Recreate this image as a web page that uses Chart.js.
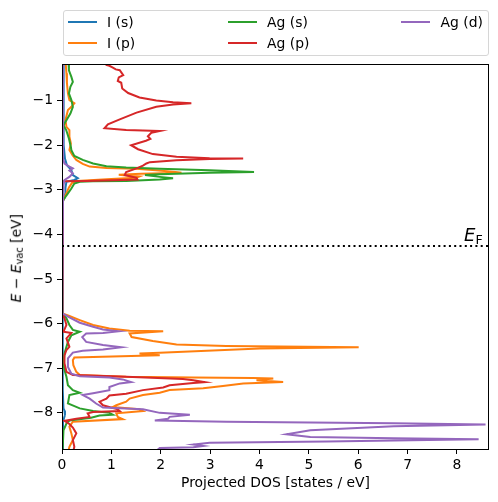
<!DOCTYPE html>
<html>
<head>
<meta charset="utf-8">
<script src="https://cdn.jsdelivr.net/npm/chart.js@4.4.1/dist/chart.umd.min.js"></script>
<style>
  body { margin: 0; background: #fff; font-family: "DejaVu Sans", sans-serif; }
  #wrap { position: relative; width: 498px; height: 502px; }
  #legend { position: absolute; left: 63px; top: 10px; width: 426px; height: 46px;
            border: 1px solid #d6d6d6; border-radius: 3px; box-sizing: border-box; }
  .item { position: absolute; height: 16px; font-size: 13.9px; line-height: 16px; color: #000; white-space: nowrap; }
  .swatch { position: absolute; width: 29px; height: 2px; }
  #ylabel { position: absolute; left: -82px; top: 248px; width: 200px; text-align: center;
            font-size: 13.9px; line-height: 16px; transform: rotate(-90deg); }
  #ylabel sub, #ef sub { font-size: 70%; vertical-align: -0.25em; font-style: normal; }
  #ef { position: absolute; left: 464px; top: 225px; font-size: 18px; line-height: 20px; }
</style>
</head>
<body>
<div id="wrap">
  <canvas id="dosChart" width="498" height="502"></canvas>
  <div id="legend"></div>
  <div id="ylabel"><i>E</i> − <i>E</i><sub>vac</sub> [eV]</div>
  <div id="ef"><i>E</i><sub>F</sub></div>
</div>
<script>
// projected DOS, pairs of [energy (eV), DOS (states / eV)]
const iS = [
  [-0.1, 0.03], [-1.0, 0.03], [-1.6, 0.03], [-2.0, 0.04], [-2.3, 0.06], [-2.45, 0.1],
  [-2.56, 0.19], [-2.67, 0.22], [-2.74, 0.32], [-2.78, 0.25], [-2.82, 0.09], [-2.95, 0.07],
  [-3.07, 0.07], [-3.19, 0.05], [-3.3, 0.0], [-5.7, 0.0], [-5.77, 0.02], [-6.5, 0.02],
  [-7.5, 0.02], [-7.9, 0.03], [-7.95, 0.05], [-8.05, 0.06], [-8.12, 0.04], [-8.2, 0.02], [-8.9, 0.02]
];
const iP = [
  [-0.1, 0.07], [-0.39, 0.09], [-0.61, 0.10], [-0.84, 0.12], [-0.99, 0.15], [-1.06, 0.25],
  [-1.14, 0.19], [-1.21, 0.12], [-1.44, 0.07], [-1.59, 0.09], [-1.66, 0.15], [-1.81, 0.15],
  [-1.96, 0.18], [-2.11, 0.15], [-2.22, 0.21], [-2.33, 0.29], [-2.42, 0.42], [-2.48, 0.56],
  [-2.51, 0.9], [-2.53, 1.5], [-2.56, 1.9], [-2.60, 2.3], [-2.62, 2.42], [-2.64, 1.6],
  [-2.66, 1.15], [-2.68, 1.3], [-2.70, 1.57], [-2.73, 1.5], [-2.76, 1.0], [-2.80, 0.3],
  [-2.85, 0.2], [-2.95, 0.14], [-3.05, 0.10], [-3.15, 0.06], [-3.25, 0.02], [-3.3, 0.0],
  [-5.7, 0.0], [-5.77, 0.02], [-5.83, 0.15], [-5.92, 0.36], [-6.03, 0.63], [-6.11, 0.96],
  [-6.16, 1.37], [-6.17, 2.05], [-6.22, 1.37], [-6.30, 1.41], [-6.39, 1.84], [-6.47, 2.32],
  [-6.50, 3.33], [-6.53, 6.01], [-6.56, 4.01], [-6.65, 1.98], [-6.67, 1.57], [-6.71, 1.98],
  [-6.76, 0.25], [-6.82, 0.22], [-6.93, 0.23], [-7.08, 0.29], [-7.15, 0.36], [-7.19, 1.30],
  [-7.21, 2.66], [-7.22, 3.87], [-7.23, 4.28], [-7.27, 3.94], [-7.31, 4.48], [-7.34, 3.67],
  [-7.40, 3.26], [-7.45, 2.86], [-7.49, 2.18], [-7.55, 1.98], [-7.60, 1.64], [-7.68, 1.37],
  [-7.75, 1.30], [-7.83, 1.10], [-7.87, 1.03], [-7.92, 1.57], [-7.96, 1.64], [-8.01, 1.10],
  [-8.09, 1.13], [-8.14, 1.23], [-8.20, 0.22], [-8.31, 0.15], [-8.46, 0.19], [-8.61, 0.22],
  [-8.76, 0.15], [-8.9, 0.12]
];
const agS = [
  [-0.1, 0.13], [-0.32, 0.14], [-0.47, 0.19], [-0.58, 0.22], [-0.69, 0.17], [-0.84, 0.14],
  [-0.99, 0.19], [-1.14, 0.22], [-1.29, 0.17], [-1.44, 0.09], [-1.55, 0.03], [-1.66, 0.085],
  [-1.85, 0.14], [-2.04, 0.18], [-2.11, 0.19], [-2.24, 0.25], [-2.33, 0.42], [-2.41, 0.63],
  [-2.47, 0.90], [-2.50, 1.30], [-2.53, 1.98], [-2.56, 2.99], [-2.60, 3.89], [-2.62, 2.99],
  [-2.65, 1.98], [-2.67, 1.68], [-2.71, 1.98], [-2.74, 2.25], [-2.77, 1.98], [-2.80, 1.30],
  [-2.81, 0.63], [-2.82, 0.36], [-2.86, 0.25], [-2.97, 0.19], [-3.08, 0.12], [-3.19, 0.05],
  [-3.25, 0.01], [-3.3, 0.0], [-5.7, 0.0], [-5.77, 0.02], [-5.88, 0.09], [-6.03, 0.15],
  [-6.14, 0.22], [-6.18, 0.36], [-6.26, 0.19], [-6.41, 0.12], [-6.67, 0.05], [-6.89, 0.03],
  [-7.04, 0.05], [-7.19, 0.09], [-7.38, 0.12], [-7.49, 0.22], [-7.55, 0.36], [-7.60, 0.15],
  [-7.79, 0.12], [-7.90, 0.36], [-7.96, 0.63], [-8.00, 0.96], [-8.04, 1.03], [-8.06, 0.76],
  [-8.11, 0.59], [-8.17, 0.15], [-8.24, 0.09], [-8.39, 0.03], [-8.9, 0.01]
];
const agP = [
  [-0.1, 0.88], [-0.20, 0.90], [-0.22, 0.96], [-0.26, 1.03], [-0.30, 1.09], [-0.32, 1.17],
  [-0.43, 1.24], [-0.48, 1.15], [-0.56, 1.13], [-0.60, 1.20], [-0.73, 1.22], [-0.83, 1.34],
  [-0.93, 1.57], [-1.00, 1.91], [-1.04, 2.25], [-1.06, 2.62], [-1.09, 2.25], [-1.14, 1.91],
  [-1.27, 1.51], [-1.42, 1.17], [-1.53, 0.93], [-1.62, 0.86], [-1.66, 1.30], [-1.68, 1.98],
  [-1.72, 1.81], [-1.80, 1.74], [-1.86, 1.79], [-1.90, 1.70], [-2.00, 1.40], [-2.09, 1.54],
  [-2.20, 1.84], [-2.26, 2.32], [-2.29, 2.99], [-2.30, 3.67], [-2.31, 2.99], [-2.34, 2.32],
  [-2.38, 1.78], [-2.41, 1.71], [-2.46, 1.64], [-2.52, 1.51], [-2.60, 1.30], [-2.67, 1.27],
  [-2.73, 1.51], [-2.77, 1.53], [-2.80, 0.5], [-2.81, 0.02], [-3.3, 0.0], [-5.7, 0.0],
  [-5.77, 0.02], [-5.88, 0.05], [-6.03, 0.09], [-6.18, 0.03], [-6.21, 0.19], [-6.33, 0.09],
  [-6.52, 0.15], [-6.59, 0.09], [-6.71, 0.05], [-6.89, 0.05], [-7.08, 0.09], [-7.15, 0.22],
  [-7.19, 1.30], [-7.24, 2.45], [-7.27, 2.66], [-7.31, 2.89], [-7.33, 2.66], [-7.38, 2.18],
  [-7.43, 2.05], [-7.49, 1.64], [-7.57, 1.30], [-7.61, 0.96], [-7.68, 0.90], [-7.75, 0.76],
  [-7.83, 0.83], [-7.92, 1.13], [-7.96, 1.17], [-7.98, 0.63], [-8.01, 0.52], [-8.09, 0.56],
  [-8.13, 0.29], [-8.18, 0.05], [-8.25, 0.15], [-8.33, 0.22], [-8.46, 0.29], [-8.61, 0.22],
  [-8.76, 0.25], [-8.9, 0.22]
];
const agD = [
  [-0.1, 0.01], [-2.3, 0.02], [-2.41, 0.05], [-2.48, 0.15], [-2.52, 0.22], [-2.57, 0.15],
  [-2.63, 0.22], [-2.71, 0.15], [-2.78, 0.05], [-2.9, 0.03], [-3.2, 0.02], [-3.3, 0.0],
  [-5.7, 0.0], [-5.77, 0.02], [-5.86, 0.15], [-5.98, 0.36], [-6.07, 0.63], [-6.13, 0.83],
  [-6.17, 1.15], [-6.21, 0.83], [-6.22, 0.49], [-6.30, 0.41], [-6.41, 0.49], [-6.48, 0.83],
  [-6.53, 1.20], [-6.58, 0.83], [-6.61, 0.42], [-6.65, 0.22], [-6.78, 0.12], [-6.97, 0.12],
  [-7.12, 0.19], [-7.18, 0.36], [-7.21, 0.96], [-7.25, 1.23], [-7.31, 1.40], [-7.34, 1.17],
  [-7.42, 0.96], [-7.49, 0.96], [-7.56, 0.63], [-7.60, 0.42], [-7.68, 0.56], [-7.79, 0.69],
  [-7.88, 0.83], [-7.92, 1.64], [-8.00, 1.98], [-8.04, 2.59], [-8.09, 2.18], [-8.13, 2.15],
  [-8.17, 1.88], [-8.20, 3.33], [-8.23, 6.72], [-8.26, 8.58], [-8.30, 6.72], [-8.39, 5.03],
  [-8.48, 4.55], [-8.54, 5.03], [-8.57, 6.72], [-8.59, 8.44], [-8.64, 5.36], [-8.67, 2.99],
  [-8.71, 2.66], [-8.74, 2.86], [-8.77, 2.66], [-8.79, 1.98], [-8.9, 1.85]
];
const seriesNames = ['I (s)', 'I (p)', 'Ag (s)', 'Ag (p)', 'Ag (d)'];
const seriesColors = ['#1f77b4', '#ff7f0e', '#2ca02c', '#d62728', '#9467bd'];
const fermiLevel = -4.26;
const xTicks = [0, 1, 2, 3, 4, 5, 6, 7, 8];
const yTicks = [-1, -2, -3, -4, -5, -6, -7, -8];

document.addEventListener('DOMContentLoaded', () => {
    const allSeries = [iS, iP, agS, agP, agD];
    const xMax = 8.65;

    function toPoints(series) {
        return series.map(([e, dos]) => ({ x: dos, y: e }));
    }

    // matplotlib-like legend: column-major, 3 columns
    function buildLegend() {
        const wrap = document.getElementById('wrap');
        const colX = [67.5, 227.5, 401];
        const rowY = [22, 42.5];
        seriesNames.forEach((name, i) => {
            const col = Math.floor(i / 2);
            const row = i % 2;
            const sw = document.createElement('div');
            sw.className = 'swatch';
            sw.style.left = colX[col] + 'px';
            sw.style.top = (rowY[row] - 1) + 'px';
            sw.style.background = seriesColors[i];
            wrap.appendChild(sw);
            const label = document.createElement('div');
            label.className = 'item';
            label.style.left = (colX[col] + 39.5) + 'px';
            label.style.top = (rowY[row] - 8) + 'px';
            label.textContent = name;
            wrap.appendChild(label);
        });
    }

    // axes box drawn over the lines, like matplotlib spines
    const framePlugin = {
        id: 'frame',
        afterDatasetsDraw(chart) {
            const { ctx, chartArea: a } = chart;
            ctx.save();
            ctx.strokeStyle = '#000';
            ctx.lineWidth = 1;
            ctx.strokeRect(Math.floor(a.left) + 0.5, Math.floor(a.top) + 0.5,
                Math.floor(a.right) - Math.floor(a.left) - 1, Math.floor(a.bottom) - Math.floor(a.top));
            ctx.restore();
        }
    };

    const minus = v => String(v).replace('-', '\u2212');
    const tickFont = { family: 'DejaVu Sans', size: 13.9 };

    const datasets = allSeries.map((s, i) => ({
        label: seriesNames[i],
        data: toPoints(s),
        showLine: true,
        borderColor: seriesColors[i],
        backgroundColor: seriesColors[i],
        borderWidth: 2,
        pointRadius: 0,
        tension: 0,
        clip: 0,
        order: allSeries.length - i
    }));
    datasets.push({
        label: 'EF',
        data: [{ x: 0, y: fermiLevel }, { x: xMax, y: fermiLevel }],
        showLine: true,
        borderColor: '#000',
        borderWidth: 2,
        borderDash: [2, 3.3],
        pointRadius: 0,
        clip: 0,
        order: 0
    });

    new Chart(document.getElementById('dosChart'), {
        type: 'scatter',
        data: { datasets },
        plugins: [framePlugin],
        options: {
            responsive: false,
            animation: false,
            layout: { padding: { left: 0, right: 9, top: 64, bottom: 0 } },
            plugins: { legend: { display: false }, tooltip: { enabled: false } },
            scales: {
                x: {
                    type: 'linear', min: 0, max: xMax,
                    afterFit: s => { s.height = 53; },
                    afterBuildTicks: s => { s.ticks = xTicks.map(v => ({ value: v })); },
                    grid: { drawOnChartArea: false, drawTicks: true, tickLength: 5, color: '#000' },
                    border: { display: false },
                    ticks: { color: '#000', font: tickFont, padding: 3, maxRotation: 0, autoSkip: false, callback: minus },
                    title: { display: true, text: 'Projected DOS [states / eV]', color: '#000',
                             font: tickFont, padding: { top: 0, bottom: 10 } }
                },
                y: {
                    type: 'linear', min: -8.81, max: -0.18,
                    afterFit: s => { s.width = 62; },
                    afterBuildTicks: s => { s.ticks = yTicks.map(v => ({ value: v })); },
                    grid: { drawOnChartArea: false, drawTicks: true, tickLength: 5, color: '#000' },
                    border: { display: false },
                    ticks: { color: '#000', font: tickFont, padding: 4, autoSkip: false, callback: minus }
                }
            }
        }
    });

    buildLegend();
});
</script>
</body>
</html>
